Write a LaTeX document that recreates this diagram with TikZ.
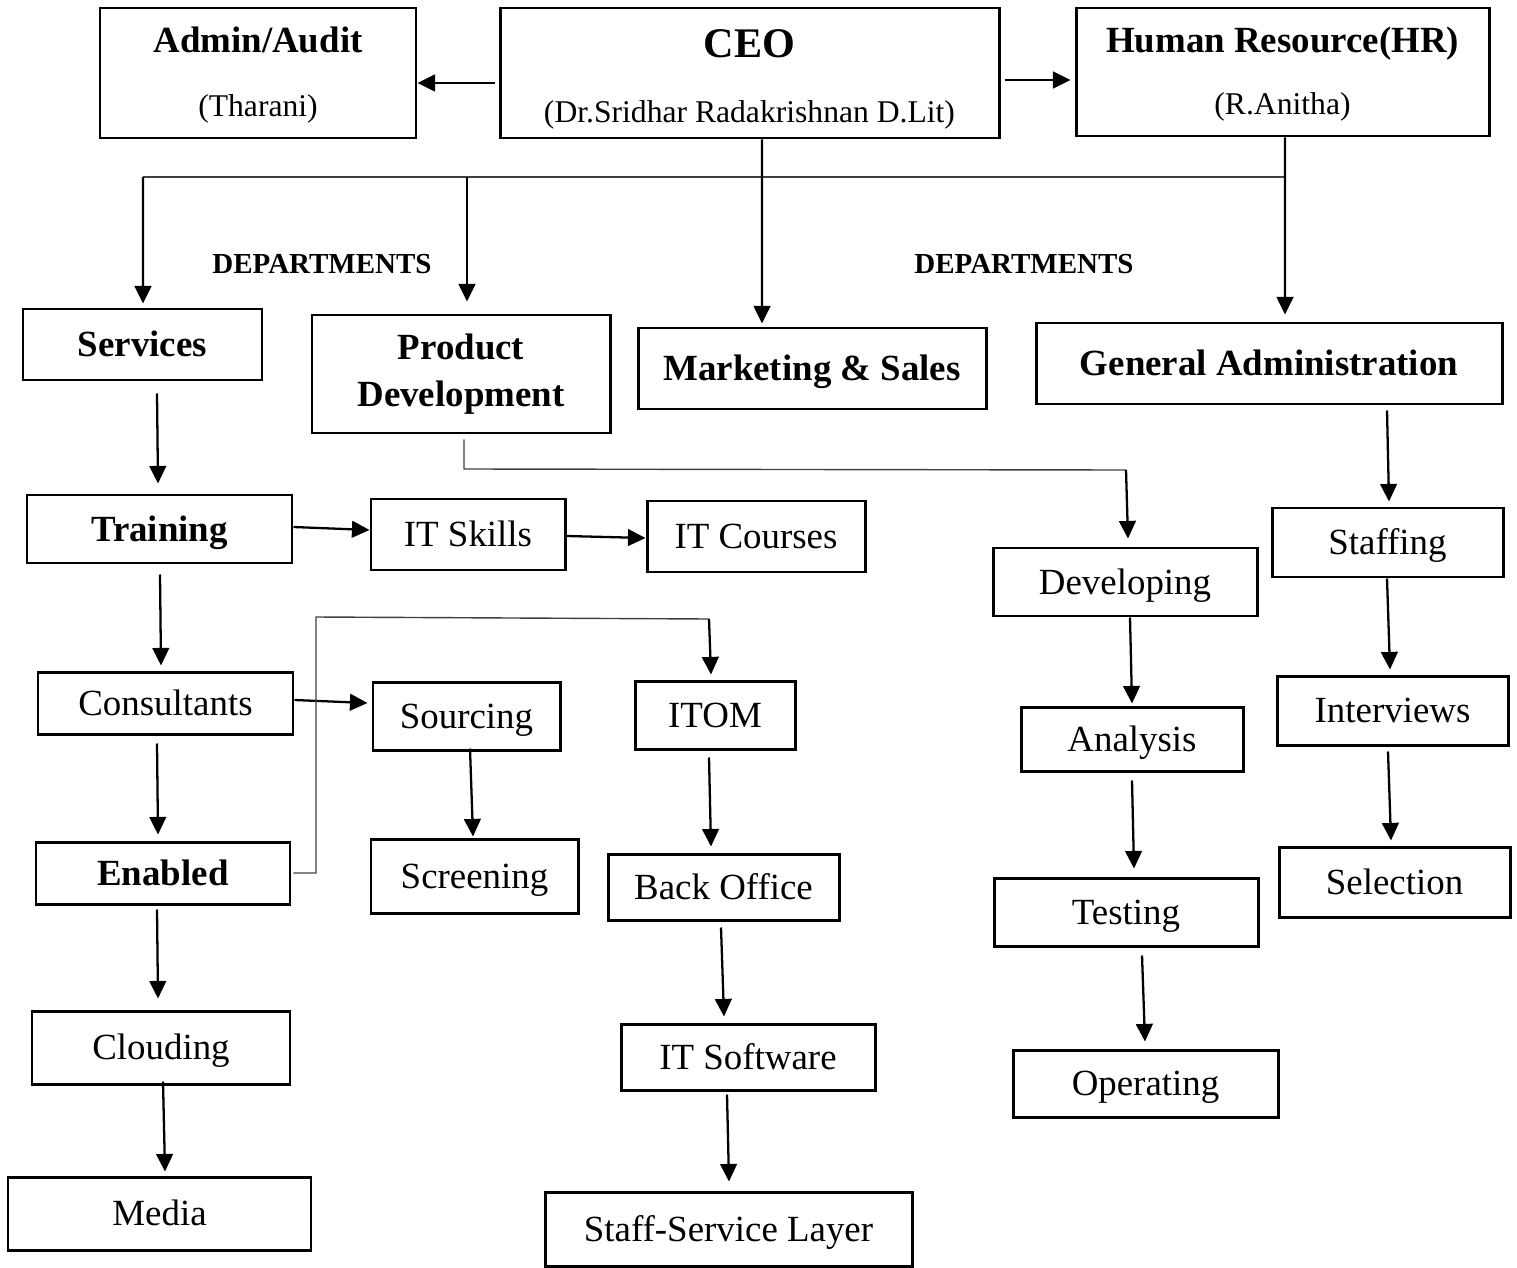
\documentclass[tikz,border=0pt]{standalone}
\usepackage{fontspec}
\setmainfont{Liberation Serif}
\usetikzlibrary{arrows.meta,calc}
\tikzset{
  base/.style={draw, line width=1.7pt, inner sep=0pt, align=center},
  box/.style={base, font=\fontsize{21}{25}\selectfont, text height=13.9pt, text depth=0pt},
  boxb/.style={base, font=\fontsize{21}{27}\selectfont\bfseries, text height=13.9pt, text depth=0pt},
  boxbm/.style={base, font=\fontsize{21}{27}\selectfont\bfseries},
  sz/.style 2 args={minimum width={#1*0.02cm}, minimum height={#2*0.02cm}},
  ttl/.style={anchor=base, inner sep=0pt, font=\fontsize{21}{25}\selectfont\bfseries},
  sub/.style={anchor=base, inner sep=0pt, font=\fontsize{18}{22}\selectfont},
  dept/.style={anchor=base, inner sep=0pt, font=\fontsize{16.5}{20}\selectfont\bfseries},
  arr/.style={line width=1.3pt, -{Triangle[length=10pt,width=9.5pt]}},
  thinln/.style={line width=0.8pt, black!75}
}
\begin{document}
\begin{tikzpicture}[x={(0.02cm,0)}, y={(0,-0.02cm)}]
\useasboundingbox (0,0) rectangle (1517,1267);

% top boxes
\node[base, sz={316}{130}] (admin) at (258,73) {};
\node[ttl] (admint) at (258,53) {Admin/Audit};
\node[sub] (admins) at (258,117) {(Tharani)};
\node[base, sz={499}{130}] (ceo) at (749.5,73) {};
\node[ttl, font=\fontsize{24}{28}\selectfont\bfseries] (ceot) at (749.5,58) {CEO};
\node[sub] (ceos) at (749.5,123) {(Dr.Sridhar Radakrishnan D.Lit)};
\node[base, sz={413}{128}] (hr) at (1282.5,72) {};
\node[ttl] (hrt) at (1282.5,53) {Human Resource(HR)};
\node[sub] (hrs) at (1282.5,115) {(R.Anitha)};

\node[dept] (dept1) at (322,273) {DEPARTMENTS};
\node[dept] (dept2) at (1024,273) {DEPARTMENTS};

% departments
\node[boxb, sz={239}{71}] (services) at (142.5,344.5) {Services};
\node[boxbm, sz={298}{118}] (pd) at (461,374) {Product\\Development};
\node[boxb, sz={348}{81}] (marketing) at (812,368.5) {Marketing \& Sales};
\node[boxb, sz={466}{81}] (ga) at (1269,363.5) {General Administration};

% services branch
\node[boxb, sz={265}{68}] (training) at (159.5,529) {Training};
\node[box, sz={194}{71}] (itskills) at (468,534.5) {IT Skills};
\node[box, sz={218}{71}] (itcourses) at (756,536.5) {IT Courses};
\node[box, sz={255}{62}] (consultants) at (165.5,703) {Consultants};
\node[box, sz={187}{68}] (sourcing) at (466.5,716) {Sourcing};
\node[box, sz={207}{74}] (screening) at (474.5,876) {Screening};
\node[boxb, sz={254}{62}] (enabled) at (163,873) {Enabled};
\node[box, sz={160}{68}] (itom) at (715,715) {ITOM};
\node[box, sz={231}{66}] (backoffice) at (723.5,887) {Back Office};
\node[box, sz={254}{66}] (itsoftware) at (748,1057) {IT Software};
\node[box, sz={367}{74}] (ssl) at (728.5,1229) {Staff-Service Layer};
\node[box, sz={258}{73}] (clouding) at (161,1047.5) {Clouding};
\node[box, sz={303}{73}] (media) at (159.5,1213.5) {Media};

% product development branch
\node[box, sz={264}{68}] (developing) at (1125,582) {Developing};
\node[box, sz={222}{64}] (analysis) at (1132,739) {Analysis};
\node[box, sz={264}{68}] (testing) at (1126,912) {Testing};
\node[box, sz={265}{67}] (operating) at (1145.5,1083.5) {Operating};

% general administration branch
\node[box, sz={231}{69}] (staffing) at (1387.5,542.5) {Staffing};
\node[box, sz={231}{69}] (interviews) at (1392.5,710.5) {Interviews};
\node[box, sz={231}{70}] (selection) at (1394.5,882) {Selection};

% top connectors
\draw[arr] ($(ceo.west)+(-4,10)$) -- ($(admin.east)+(0,10)$);
\draw[arr] ($(ceo.east)+(4,7)$) -- ($(hr.west)+(-4,8)$);

\coordinate (busL) at (143,177);
\coordinate (busP) at (467,177);
\coordinate (busR) at (1285,177);
\draw[thinln] (busL) -- (busR);
\draw[arr] (busL) -- ($(services.north)+(0.5,-4)$);
\draw[arr] (busP) -- ($(pd.north)+(6,-12)$);
\draw[arr] ($(ceo.south)+(12.5,0)$) -- ($(marketing.north)+(-50,-3)$);
\draw[arr] ($(hr.south)+(2.5,0)$) -- ($(ga.north)+(16,-7)$);

% services branch connectors
\draw[arr] ($(services.south)+(14.5,12)$) -- ($(training.north)+(-1.5,-10)$);
\draw[arr] ($(training.east)+(0,-2)$) -- ($(itskills.west)+(0,-4.5)$);
\draw[arr] ($(itskills.east)+(0,1.5)$) -- ($(itcourses.west)+(0,1.5)$);
\draw[arr] ($(training.south)+(0.5,10)$) -- ($(consultants.north)+(-4.5,-5)$);
\draw[arr] ($(consultants.east)+(0,-3)$) -- ($(sourcing.west)+(-4,-13)$);
\draw[arr] ($(sourcing.south)+(3.5,-3)$) -- ($(screening.north)+(-1.5,-1)$);
\draw[arr] ($(consultants.south)+(-8.5,8)$) -- ($(enabled.north)+(-5,-6)$);
\draw[thinln] ($(enabled.east)+(2,0)$) -- (316,873) -- (316,617) -- (709,619);
\draw[arr] (709,619) -- ($(itom.north)+(-4,-5)$);
\draw[arr] ($(itom.south)+(-6,7)$) -- ($(backoffice.north)+(-12.5,-6)$);
\draw[arr] ($(backoffice.south)+(-2.5,6)$) -- ($(itsoftware.north)+(-24,-6)$);
\draw[arr] ($(itsoftware.south)+(-21,3)$) -- ($(ssl.north)+(0.5,-9)$);
\draw[arr] ($(enabled.south)+(-6,4)$) -- ($(clouding.north)+(-3,-11)$);
\draw[arr] ($(clouding.south)+(2,-4)$) -- ($(media.north)+(5.5,-4)$);

% product development connectors
\draw[thinln] ($(pd.south)+(3,5)$) -- (464,469) -- (1126,470);
\draw[arr] (1126,470) -- ($(developing.north)+(3,-8)$);
\draw[arr] ($(developing.south)+(5,0)$) -- ($(analysis.north)+(0,-2)$);
\draw[arr] ($(analysis.south)+(0,8)$) -- ($(testing.north)+(8,-8)$);
\draw[arr] ($(testing.south)+(16,8)$) -- ($(operating.north)+(-0.5,-7)$);

% general administration connectors
\draw[arr] ($(ga.south)+(118,5)$) -- ($(staffing.north)+(1.5,-5)$);
\draw[arr] ($(staffing.south)+(-0.5,0)$) -- ($(interviews.north)+(-2.5,-5)$);
\draw[arr] ($(interviews.south)+(-4.5,5)$) -- ($(selection.north)+(-3.5,-5)$);
\end{tikzpicture}
\end{document}
